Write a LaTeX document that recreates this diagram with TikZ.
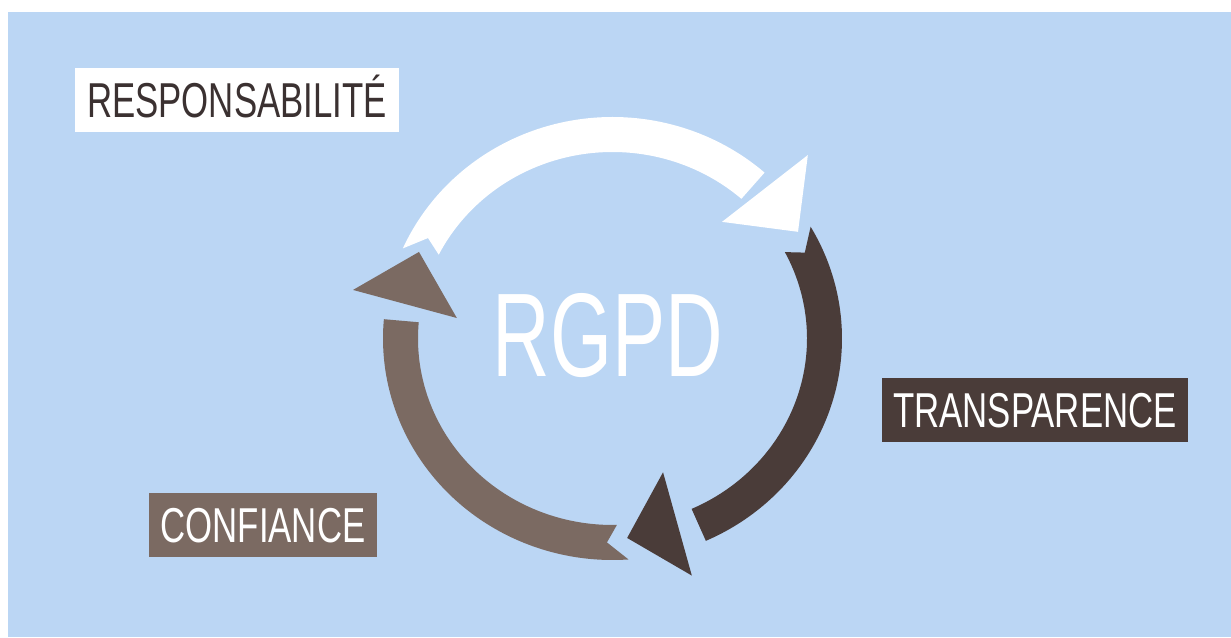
\documentclass[tikz,border=0pt]{standalone}
\usepackage{fontspec}
\usepackage{xcolor}
\usepackage{tikz}
\usetikzlibrary{
	positioning
}
\newfontfamily\tagfont{Liberation Sans}[FakeStretch=0.71]
\newfontfamily\bigfont{Liberation Sans}[FakeStretch=0.67]
\definecolor{skyblue}{RGB}{187,214,244}
\definecolor{taupe}{RGB}{123,106,98}
\definecolor{cocoa}{RGB}{74,60,57}
\definecolor{inkdark}{RGB}{59,49,49}

\begin{document}
\begin{tikzpicture}[x=0.5pt,y=0.5pt,
	tagbox/.style={inner sep=0pt,minimum height=32pt,text height=17.5pt,text depth=0pt,
		font=\tagfont\fontsize{24.5}{24.5}\selectfont}]
		
		\useasboundingbox (0,0) rectangle (1231,637);
		\fill[skyblue] (8,0) rectangle (1231,625);
		
		\begin{scope}[shift={(612.5,298.5)}]
		% Three arcs, clockwise
		\fill[white] (156:229.5 and 221.5)
		arc[start angle=156,end angle=48.5,x radius=229.5,y radius=221.5]
		-- (48.5:194.5 and 186.5)
		arc[start angle=48.5,end angle=153.3,x radius=194.5,y radius=186.5]
		-- (150.5:212 and 204) -- cycle;
		
		\fill[cocoa] (30.3:229.5 and 221.5)
		arc[start angle=30.3,end angle=-66,x radius=229.5,y radius=221.5]
		-- (-66:194.5 and 186.5)
		arc[start angle=-66,end angle=27.6,x radius=194.5,y radius=186.5]
		-- (24.9:212 and 204) -- cycle;
		
		\fill[taupe] (274:229.5 and 221.5)
		arc[start angle=274,end angle=175,x radius=229.5,y radius=221.5]
		-- (175:194.5 and 186.5)
		arc[start angle=175,end angle=271.3,x radius=194.5,y radius=186.5]
		-- (268.5:212 and 204) -- cycle;
		
		% Arrow heads
		\fill[white] (43.2:268) -- (29.9:214) -- (46.8:160) -- cycle;
		\fill[cocoa] (-71.5:250) -- (-85.8:200) -- (-69.3:143) -- cycle;
		\fill[taupe] (169.4:264) -- (155.9:212) -- (172.5:157) -- cycle;
		\end{scope}
		
		\node[text=white,font=\bigfont\fontsize{59.5}{59.5}\selectfont] (rgpd) at (608,301.5) {RGPD};
		
		\node[tagbox,fill=white,text=inkdark,minimum width=162pt] (resp) at (237,537) {RESPONSABILITÉ};
		\node[tagbox,fill=cocoa,text=white,minimum width=153pt] (transp) at (1035,226.5) {TRANSPARENCE};
		\node[tagbox,fill=taupe,text=white,minimum width=114pt] (conf) at (263,112) {CONFIANCE};
		
	\end{tikzpicture}
\end{document}
